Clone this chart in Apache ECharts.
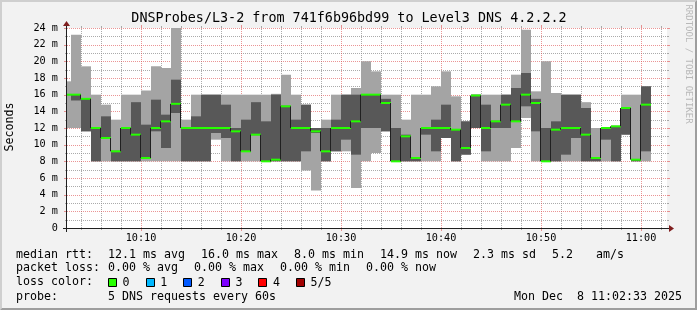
<!DOCTYPE html>
<html><head><meta charset="utf-8">
<script src="https://cdn.jsdelivr.net/npm/echarts@6/dist/echarts.min.js"></script>
<style>html,body{margin:0;padding:0;background:#f2f2f2}#c{width:697px;height:310px}</style>
</head><body><div id="c"></div>
<script>
// ---- data: one column per minute (minutes after 10:00) ----
const minuteStart = [2,3,4,5,6,7,8,9,10,11,
  12,13,14,15,16,17,18,19,20,21,
  22,23,24,25,26,27,28,29,30,31,
  32,33,34,35,36,37,38,39,40,41,
  42,43,44,45,46,47,48,49,50,51,
  52,53,54,55,56,57,58,59,60];
const pingMin = [12,12,11.6,8,8,8,8,8,8,8,
  8,8,8,8,8,10.6,8,8,8,8,
  8,8,8,8,6.9,4.5,8,9.2,9.2,4.8,
  8,9,11.6,8,8,8,8,8,10.8,8,
  8.8,12,8,8,8,9.6,13.2,8,8,8,
  8,8,8,8,8,8,11.2,8,8];
const ping2 = [16,15.3,11.6,8,10.8,8,8,8,8.4,11.6,
  9.6,13.8,8,8,8,11.4,10.8,8,9.2,11.2,
  8,8,8,8,9.2,11.4,8,9.2,10.6,8.8,
  12,12,11.6,8,8,8,11.2,9.2,10.8,8,
  8.8,12,9.2,12,12,12.8,14.6,11.6,8,8,
  8.8,10.8,8,8,10.6,8,11.2,8,9.2];
const median = [16,16,15.5,12,10.8,9.2,12,11.2,8.4,12,
  12.8,14.9,12,12,12,12,12,11.6,9.2,11.2,
  8,8.2,14.6,12,12,11.6,9.2,12,12,12.8,
  16,16,15,8,11,8.4,12,12,12,11.8,
  9.6,15.9,12,12.8,14.8,12.8,16,15,8,11.8,
  12,12,11.2,8.4,12,12.2,14.4,8.2,14.8];
const ping4 = [16,16,15.6,12,13.4,9.2,12,15.1,12.4,15.4,
  13.6,17.8,12,13.4,16,16,14.8,12,13,15.1,
  12.8,16,14.6,13,14.8,12,12,13,16,16,
  16,16,15.5,12,11.2,8.4,12,13,14.8,11.8,
  12.8,16,14.8,12.8,16,16.8,18.6,15.5,12,12.8,
  16,16,14.4,8.4,12,12.2,14.4,8.2,17];
const pingMax = [17.6,23.2,19.4,16,14.8,13,16,16,16.5,19.4,
  19.2,24,13,16,16,16,16,16,16,16,
  16,16.1,18.4,16,14.8,12,13,16,16,16.8,
  20,18.8,16,16,13,16,16,17,18.8,15.8,
  12.8,16,16,16,16,18.4,23.8,16.4,20,16.2,
  16,16,15.1,12,12,12.2,16,16,17];

const yMajorTicks = [2,4,6,8,10,12,14,16,18,20,22,24];
const yMinorTicks = [1,3,5,7,9,11,13,15,17,19,21,23];
const xMajorTicks = [10,20,30,40,50,60];
const xMinorTicks = [4,6,8,12,14,16,18,22,24,26,28,32,34,36,38,42,44,46,48,52,54,56,58,62];

const titleText = 'DNSProbes/L3-2 from 741f6b96bd99 to Level3 DNS 4.2.2.2';
const legendRow1 = ['median rtt:', '12.1 ms avg', '16.0 ms max', '8.0 ms min', '14.9 ms now', '2.3 ms sd', '5.2 ', 'am/s'];
const legendRow2 = ['packet loss:', '0.00 % avg', '0.00 % max', '0.00 % min', '0.00 % now'];
const legendRow3 = 'loss color:';
const lossLabels = ['0','1','2','3','4','5/5'];
const lossColors = ['#26ff00','#00b8ff','#0059ff','#7e00ff','#ff0000','#a10000'];
const legendRow4 = ['probe:', '5 DNS requests every 60s'];
const dateText = 'Mon Dec  8 11:02:33 2025';

const X_MIN = 2.6, X_MAX = 62.6, STEP = 1;
const MONO = '"DejaVu Sans Mono"';
const LEG_FONT = '11.63px ' + MONO;
const CHAR_W = 7.0, LEG_GAP = 16, LEG_X0 = 16, LEG_X1 = 108;
const GRID_C = 'rgba(143,143,143,0.75)';
const MGRID_C = 'rgba(222,79,79,0.6)';

const lightData = minuteStart.map((t,i)=>[t, pingMin[i], pingMax[i]]);
const darkData = minuteStart.map((t,i)=>[t, ping2[i], ping4[i]]);
const medData = minuteStart.map((t,i)=>[t, median[i], i>0 ? median[i-1] : median[i]]);

function cs(params){ const c = params.coordSys; return {x:c.x, y:c.y, width:c.width, height:c.height}; }

function smoke(fill){
  return function(params, api){
    const t = api.value(0), lo = api.value(1), hi = api.value(2);
    const a = api.coord([t, hi]), b = api.coord([t+STEP, lo]);
    const shape = echarts.graphic.clipRectByRect(
      {x:a[0], y:a[1], width:b[0]-a[0], height:b[1]-a[1]}, cs(params));
    return shape ? {type:'rect', shape:shape, style:{fill:fill}} : null;
  };
}

function medianItem(params, api){
  const t = api.value(0), m = api.value(1), prev = api.value(2);
  const c = cs(params);
  const children = [];
  const a = api.coord([t, m]);
  const b = api.coord([t+STEP, m]);
  const xl = Math.max(a[0], c.x), xr = Math.min(b[0], c.x + c.width);
  if (a[0] >= c.x && params.dataIndex > 0) {
    const p = api.coord([t, prev]);
    children.push({type:'line', shape:{x1:a[0]-0.5, y1:p[1], x2:a[0]-0.5, y2:a[1]},
      style:{stroke:'#202020', lineWidth:1}});
  }
  if (xr > xl) {
    children.push({type:'line', shape:{x1:xl, y1:a[1], x2:xr, y2:a[1]},
      style:{stroke:'#202020', lineWidth:1}});
    const hiP = api.coord([t, m + 0.12]), loP = api.coord([t, m - 0.12]);
    children.push({type:'rect', shape:{x:xl, y:hiP[1], width:xr-xl, height:loP[1]-hiP[1]},
      style:{fill:lossColors[0]}});
  }
  return {type:'group', children:children};
}

function gridItem(params, api){
  const c = cs(params);
  const ch = [];
  const x0 = c.x, x1 = c.x + c.width, y0 = c.y + c.height, y1 = c.y;
  function hline(v, col, tick){
    const y = Math.round(api.coord([X_MIN, v])[1]) + 0.5;
    ch.push({type:'line', shape:{x1:x0, y1:y, x2:x1, y2:y}, style:{stroke:col, lineWidth:1, lineDash:[1,1]}});
    ch.push({type:'line', shape:{x1:x0-tick, y1:y, x2:x0, y2:y}, style:{stroke:col, lineWidth:1}});
    ch.push({type:'line', shape:{x1:x1, y1:y, x2:x1+tick, y2:y}, style:{stroke:col, lineWidth:1}});
  }
  function vline(v, col, tick){
    const x = Math.round(api.coord([v, 0])[0]) + 0.5;
    ch.push({type:'line', shape:{x1:x, y1:y0, x2:x, y2:y1}, style:{stroke:col, lineWidth:1, lineDash:[1,1]}});
    ch.push({type:'line', shape:{x1:x, y1:y0, x2:x, y2:y0+tick}, style:{stroke:col, lineWidth:1}});
    ch.push({type:'line', shape:{x1:x, y1:y1-tick, x2:x, y2:y1}, style:{stroke:col, lineWidth:1}});
  }
  yMinorTicks.forEach(v=>hline(v, GRID_C, 2));
  xMinorTicks.forEach(v=>{ if (v > X_MIN && v < X_MAX) vline(v, GRID_C, 2); });
  yMajorTicks.forEach(v=>hline(v, MGRID_C, 3));
  xMajorTicks.forEach(v=>vline(v, MGRID_C, 3));
  return {type:'group', children:ch};
}

function txt(text, x, y, align, font){
  return {type:'text', silent:true, z:10, style:{text:text, x:x, y:y, font:font||LEG_FONT, fill:'#000',
    align:align||'left', verticalAlign:'middle', textAlign:align||'left', textVerticalAlign:'middle'}};
}
// rrdtool-like legend layout: label, then items separated by a fixed gap
function legendRow(items, y){
  const out = [txt(items[0], LEG_X0, y)];
  let x = LEG_X1;
  for (let i = 1; i < items.length; i++){
    out.push(txt(items[i], x, y));
    x += items[i].length * CHAR_W + LEG_GAP;
  }
  return out;
}

const chart = echarts.init(document.getElementById('c'), null, {renderer:'canvas', devicePixelRatio:1});

const W = 697, H = 310, X0 = 67, Y0 = 228, XS = 600, YS = 200;

const lossItems = [];
let lx = LEG_X1;
lossLabels.forEach((lab,i)=>{
  lossItems.push({type:'rect', silent:true, z:10, shape:{x:Math.round(lx)+0.5, y:278.5, width:8, height:8},
    style:{fill:lossColors[i], stroke:'#000', lineWidth:1}});
  lossItems.push(txt(lab, lx + 14.6, 282.5));
  lx += 14.6 + lab.length * CHAR_W + LEG_GAP;
});

chart.setOption({
  animation:false,
  backgroundColor:'#f2f2f2',
  grid:{left:X0, top:Y0-YS, width:XS, height:YS, show:true, backgroundColor:'#ffffff', borderWidth:0},
  xAxis:{type:'value', min:X_MIN, max:X_MAX, minInterval:10, maxInterval:10,
    axisLine:{show:false}, axisTick:{show:false}, splitLine:{show:false},
    axisLabel:{margin:5, color:'#000', fontFamily:'DejaVu Sans Mono', fontSize:10.2,
      showMinLabel:false, showMaxLabel:false,
      formatter:function(v){ if (Math.abs(v % 10) > 1e-6) return '';
        const h = 10 + Math.floor(v/60), mm = v % 60; return h + ':' + (mm<10?'0':'') + mm; }}},
  yAxis:{type:'value', min:0, max:24, interval:2,
    axisLine:{show:false}, axisTick:{show:false}, splitLine:{show:false},
    axisLabel:{margin:9, color:'#000', fontFamily:'DejaVu Sans Mono', fontSize:10.2,
      formatter:function(v){ return v === 0 ? '0' : v + ' m'; }}},
  series:[
    {type:'custom', name:'grid', data:[[X_MIN,0]], renderItem:gridItem, z:1, silent:true},
    {type:'custom', name:'outer', data:lightData, renderItem:smoke('#a4a4a4'), z:2, silent:true},
    {type:'custom', name:'inner', data:darkData, renderItem:smoke('#585858'), z:3, silent:true},
    {type:'custom', name:'median', data:medData, renderItem:medianItem, z:4, silent:true}
  ],
  graphic:[
    {type:'polygon', silent:true, z:0, shape:{points:[[0,H],[2,H-2],[2,2],[W-2,2],[W,0],[0,0]]}, style:{fill:'#cfcfcf'}},
    {type:'polygon', silent:true, z:0, shape:{points:[[2,H-2],[W-2,H-2],[W-2,2],[W,0],[W,H],[0,H]]}, style:{fill:'#9e9e9e'}},
    {type:'line', silent:true, z:10, shape:{x1:X0-4, y1:Y0+0.5, x2:X0+XS+4, y2:Y0+0.5}, style:{stroke:'#1f1f1f', lineWidth:1}},
    {type:'line', silent:true, z:10, shape:{x1:X0-0.5, y1:Y0+4, x2:X0-0.5, y2:Y0-YS-4}, style:{stroke:'#1f1f1f', lineWidth:1}},
    {type:'polygon', silent:true, z:10, shape:{points:[[X0+XS+2,Y0-3],[X0+XS+2,Y0+4],[X0+XS+7,Y0+0.5]]}, style:{fill:'#801f1f'}},
    {type:'polygon', silent:true, z:10, shape:{points:[[X0-4,Y0-YS-2],[X0+3,Y0-YS-2],[X0-0.5,Y0-YS-7]]}, style:{fill:'#801f1f'}},
    txt(titleText, 349, 19, 'center', '13.4px ' + MONO),
    {type:'text', silent:true, z:10, rotation:Math.PI/2, x:10, y:127, style:{text:'Seconds', x:0, y:0, font:'11.6px '+MONO, fill:'#000', align:'center', verticalAlign:'middle', textAlign:'center', textVerticalAlign:'middle'}},
    {type:'text', silent:true, z:10, rotation:-Math.PI/2, x:688, y:64, style:{text:'RRDTOOL / TOBI OETIKER', x:0, y:0, font:'9px '+MONO, fill:'#b8b8b8', align:'center', verticalAlign:'middle', textAlign:'center', textVerticalAlign:'middle'}},
    txt(legendRow3, LEG_X0, 282),
    txt(dateText, 682, 297, 'right')
  ].concat(legendRow(legendRow1, 255), legendRow(legendRow2, 268), legendRow(legendRow4, 297), lossItems)
});
</script></body></html>
